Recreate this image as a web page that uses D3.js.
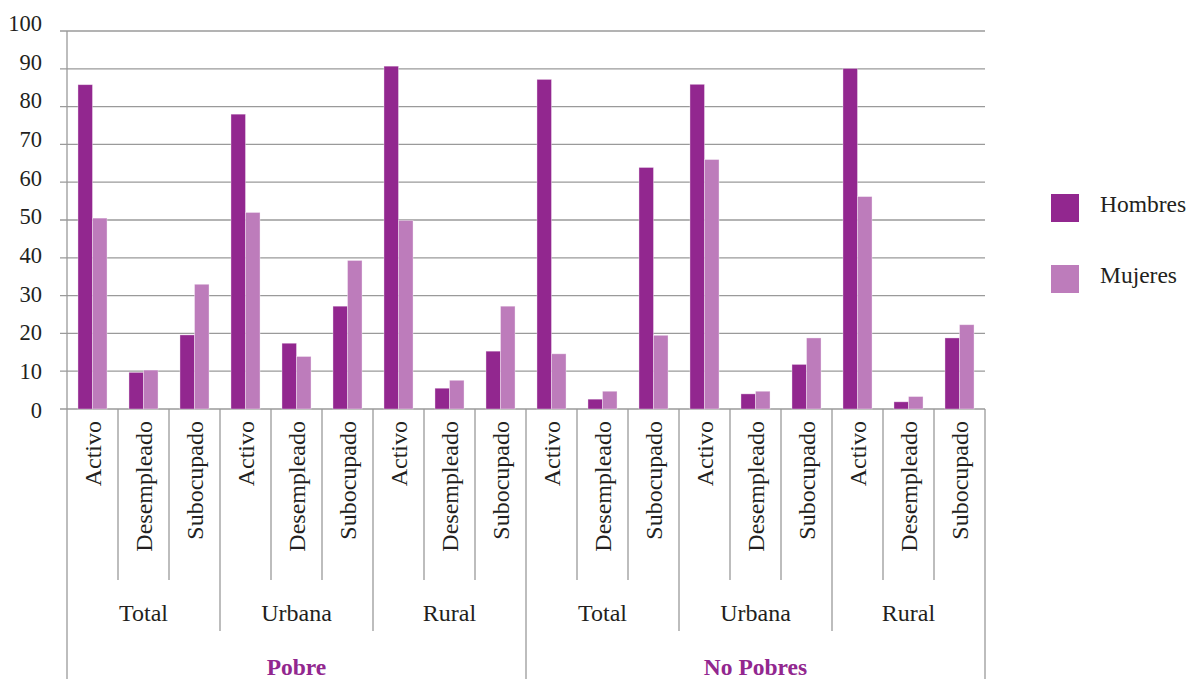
<!DOCTYPE html>
<html>
<head>
<meta charset="utf-8">
<script src="https://cdn.jsdelivr.net/npm/d3@7"></script>
<style>
  html, body { margin: 0; padding: 0; background: #fff; }
  svg { display: block; }
  svg text { font-family: "Liberation Serif", "Times New Roman", serif; }
</style>
</head>
<body>
<svg id="chart" width="1189" height="679"></svg>
<script>
// Categories (three nested levels)
const grupos = ["Pobre", "No Pobres"];
const areas = ["Total", "Urbana", "Rural"];
const condiciones = ["Activo", "Desempleado", "Subocupado"];

// Series values (%), in order grupo > area > condicion
const hombres = [85.8, 9.7, 19.6, 78.0, 17.4, 27.2, 90.7, 5.5, 15.3,
                 87.2, 2.6, 63.9, 85.9, 4.0, 11.8, 90.1, 1.9, 18.8];
const mujeres = [50.5, 10.3, 33.0, 52.0, 13.9, 39.3, 49.9, 7.6, 27.2,
                 14.6, 4.7, 19.5, 66.0, 4.7, 18.8, 56.2, 3.3, 22.3];

const series = ["Hombres", "Mujeres"];
const colores = ["#92278f", "#bd7cbb"];
const yTicks = [0, 10, 20, 30, 40, 50, 60, 70, 80, 90, 100];

// Flat list of leaf categories
const hojas = [];
grupos.forEach((g, gi) => areas.forEach((a, ai) => condiciones.forEach((c, ci) => {
  hojas.push({ key: `${g}|${a}|${c}`, grupo: g, area: a, condicion: c, gi, ai, ci });
})));
const filas = hojas.map((h, i) => ({ ...h, valores: [hombres[i], mujeres[i]] }));

const svg = d3.select("#chart");
const ink = "#231f20";
const plotLeft = 67, plotRight = 985, plotTop = 31, plotBottom = 409;

const x = d3.scaleBand().domain(hojas.map(h => h.key)).range([plotLeft, plotRight])
  .paddingInner(0.43).paddingOuter(0.215);
const xs = d3.scaleBand().domain(series).range([0, x.bandwidth()]);
const y = d3.scaleLinear().domain([0, 100]).range([plotBottom, plotTop]);
// tick labels sit on a slightly taller ladder than the gridlines
const yLab = d3.scaleLinear().domain([0, 100]).range([plotBottom + 1, plotTop - 8]);

const step = x.step();
const edge = i => plotLeft + i * step; // boundary before leaf i

// Gridlines
svg.append("g").selectAll("line").data(yTicks).join("line")
  .attr("x1", plotLeft - 7).attr("x2", plotRight)
  .attr("y1", d => y(d)).attr("y2", d => y(d))
  .attr("stroke", "#9a9a9a").attr("stroke-width", 1.3);

// Y tick labels
svg.append("g").selectAll("text").data(yTicks).join("text")
  .attr("x", 42).attr("y", d => yLab(d))
  .attr("dy", "0.35em").attr("text-anchor", "end")
  .attr("font-size", 22.5).attr("fill", ink).text(d => d);

// Bars
const barG = svg.append("g");
filas.forEach(f => {
  barG.append("g").selectAll("rect")
    .data(series.map((s, si) => ({ s, si, v: f.valores[si] })))
    .join("rect")
    .attr("x", d => x(f.key) + xs(d.s))
    .attr("width", xs.bandwidth())
    .attr("y", d => y(d.v))
    .attr("height", d => y(0) - y(d.v))
    .attr("fill", d => colores[d.si])
    .attr("stroke", "rgba(255,255,255,0.45)").attr("stroke-width", 0.8);
});

// Axis lines and hierarchical separators
const sep = svg.append("g").attr("stroke", "#9a9a9a").attr("stroke-width", 1.3);
sep.append("line").attr("x1", plotLeft).attr("x2", plotLeft).attr("y1", plotTop).attr("y2", 679);
for (let i = 1; i <= hojas.length; i++) {
  let y2;
  if (i % 9 === 0) y2 = 679;
  else if (i % 3 === 0) y2 = 631;
  else y2 = 580;
  sep.append("line").attr("x1", edge(i)).attr("x2", edge(i))
    .attr("y1", plotBottom).attr("y2", y2);
}

// Leaf labels (rotated)
svg.append("g").selectAll("text").data(hojas).join("text")
  .attr("transform", (d, i) => `translate(${edge(i) + step / 2 + 8},421) rotate(-90)`)
  .attr("text-anchor", "end").attr("font-size", 24).attr("fill", ink)
  .text(d => d.condicion);

// Area labels
const areaItems = [];
grupos.forEach((g, gi) => areas.forEach((a, ai) => areaItems.push({ a, idx: gi * 3 + ai })));
svg.append("g").selectAll("text").data(areaItems).join("text")
  .attr("x", d => edge(d.idx * 3) + step * 1.5)
  .attr("y", 621).attr("text-anchor", "middle").attr("font-size", 24).attr("fill", ink)
  .text(d => d.a);

// Group labels
svg.append("g").selectAll("text").data(grupos).join("text")
  .attr("x", (d, i) => edge(i * 9) + step * 4.5)
  .attr("y", 675).attr("text-anchor", "middle").attr("font-size", 23.5)
  .attr("font-weight", "bold").attr("fill", "#92278f")
  .text(d => d);

// Legend
const leg = svg.append("g").selectAll("g").data(series).join("g")
  .attr("transform", (d, i) => `translate(1051,${194 + i * 71})`);
leg.append("rect").attr("width", 28).attr("height", 28).attr("fill", (d, i) => colores[i]);
leg.append("text").attr("x", 49).attr("y", 18).attr("font-size", 23.5).attr("fill", ink).text(d => d);
</script>
</body>
</html>
